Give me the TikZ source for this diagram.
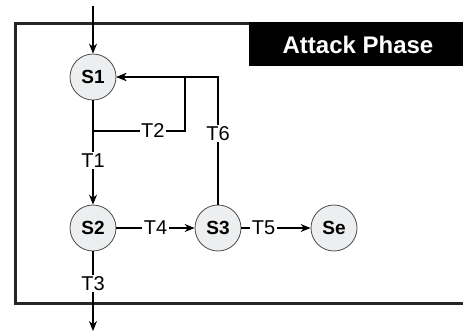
\documentclass[tikz,border=0pt]{standalone}
\usepackage{fontspec}
\setmainfont{Liberation Sans}
\usetikzlibrary{arrows.meta}
\definecolor{statefill}{HTML}{ECEEEF}
\begin{document}
\begin{tikzpicture}[x=1pt,y=-1pt,
  state/.style={circle, draw=black!70, line width=0.8pt, fill=statefill, minimum size=46pt, inner sep=0pt, font=\fontsize{19}{21}\selectfont\bfseries},
  conn/.style={line width=1.2pt, -{Stealth[length=10pt,width=8pt]}},
  frameline/.style={line width=3pt, black!85},
  lbl/.style={fill=white, inner sep=1.5pt, font=\fontsize{20}{22}\selectfont},
  header/.style={fill=black, draw=none},
  headertext/.style={text=white, font=\fontsize{24}{26}\selectfont\bfseries}]
\useasboundingbox (0,0) rectangle (463,333);
% frame and header
\draw[frameline] (475,23) -- (15,23) -- (15,303) -- (475,303);
\fill[header] (249,22) rectangle (475,66);
\node[headertext] (title) at (358,45) {Attack Phase};
% states
\node[state] (s1) at (93,77) {S1};
\node[state] (s2) at (93,228) {S2};
\node[state] (s3) at (218,228) {S3};
\node[state] (se) at (334,228) {Se};
\coordinate (in) at (93,6);
\coordinate (out) at (93,331);
\coordinate (j2) at (93,131);
\coordinate (c2) at (185,131);
\coordinate (c2t) at (185,77);
\coordinate (c6) at (218,77);
% connectors
\draw[conn] (in) -- (s1);
\draw[conn] (s1) -- node[lbl, pos=0.575] {T1} (s2);
\draw[conn] (s1) -- (j2) -- node[lbl, pos=0.65] {T2} (c2) -- (c2t) -- (s1);
\draw[conn] (s3) -- node[lbl, pos=0.56] {T6} (c6) -- (s1);
\draw[conn] (s2) -- node[lbl] {T4} (s3);
\draw[conn] (s3) -- node[lbl, pos=0.32] {T5} (se);
\draw[conn] (s2) -- node[lbl, pos=0.40] {T3} (out);
\end{tikzpicture}
\end{document}
